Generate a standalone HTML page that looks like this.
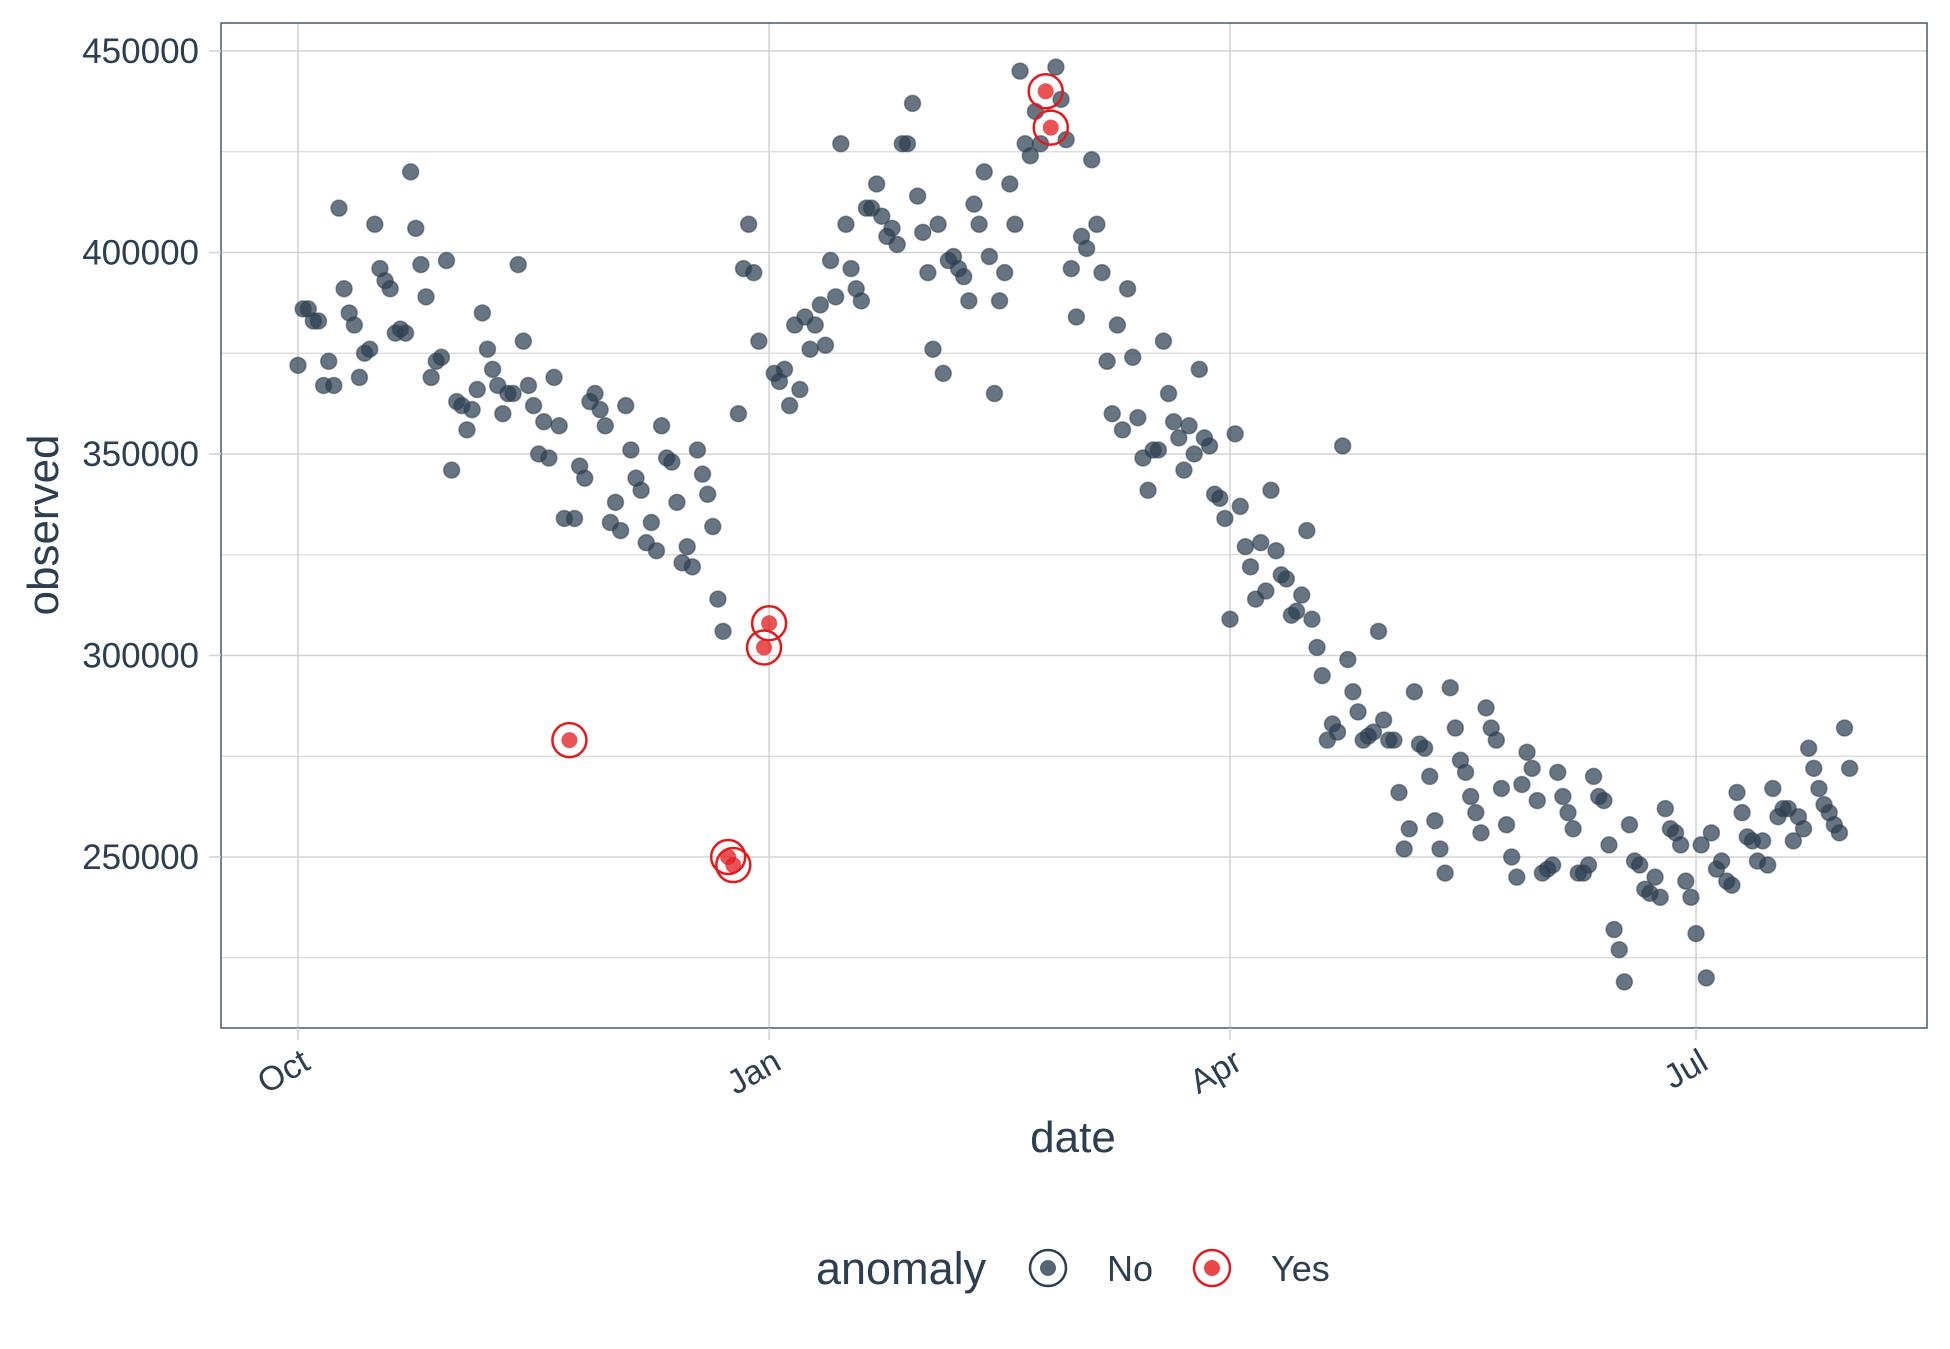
<!DOCTYPE html>
<html><head><meta charset="utf-8"><style>
body{margin:0;background:#fff}
svg{display:block;font-family:"Liberation Sans",sans-serif}
</style></head><body>
<svg id="chart" width="1950" height="1349" viewBox="0 0 1950 1349" xmlns="http://www.w3.org/2000/svg">
<rect x="0" y="0" width="1950" height="1349" fill="#fff"/>
<g id="grid"></g>
<g id="points"></g>
<rect x="221" y="23" width="1706" height="1005" fill="none" stroke="#2c3e50" stroke-width="1.3"/>
<g id="axes"></g>
<text x="1073" y="1152" font-size="44" fill="#2c3e50" text-anchor="middle">date</text>
<text transform="translate(58,525) rotate(-90)" font-size="44" fill="#2c3e50" text-anchor="middle">observed</text>
<g>
<text x="816" y="1284" font-size="45" fill="#2c3e50">anomaly</text>
<circle cx="1048" cy="1268" r="18" fill="none" stroke="#2c3e50" stroke-width="2.5"/>
<circle cx="1048" cy="1268" r="8" fill="#2c3e50" fill-opacity="0.8"/>
<text x="1107" y="1281" font-size="36" fill="#2c3e50">No</text>
<circle cx="1212" cy="1268" r="18" fill="none" stroke="#e31a1c" stroke-width="2.5"/>
<circle cx="1212" cy="1268" r="8" fill="#e31a1c" fill-opacity="0.8"/>
<text x="1271" y="1281" font-size="36" fill="#2c3e50">Yes</text>
</g>
</svg>
<script>
// daily observations starting Oct 1 (day 0), in thousands
const observed = [372,386,386,383,383,367,373,367,411,391,
385,382,369,375,376,407,396,393,391,380,
381,380,420,406,397,389,369,373,374,398,
346,363,362,356,361,366,385,376,371,367,
360,365,365,397,378,367,362,350,358,349,
369,357,334,279,334,347,344,363,365,361,
357,333,338,331,362,351,344,341,328,333,
326,357,349,348,338,323,327,322,351,345,
340,332,314,306,250,248,360,396,407,395,
378,302,308,370,368,371,362,382,366,384,
376,382,387,377,398,389,427,407,396,391,
388,411,411,417,409,404,406,402,427,427,
437,414,405,395,376,407,370,398,399,396,
394,388,412,407,420,399,365,388,395,417,
407,445,427,424,435,427,440,431,446,438,
428,396,384,404,401,423,407,395,373,360,
382,356,391,374,359,349,341,351,351,378,
365,358,354,346,357,350,371,354,352,340,
339,334,309,355,337,327,322,314,328,316,
341,326,320,319,310,311,315,331,309,302,
295,279,283,281,352,299,291,286,279,280,
281,306,284,279,279,266,252,257,291,278,
277,270,259,252,246,292,282,274,271,265,
261,256,287,282,279,267,258,250,245,268,
276,272,264,246,247,248,271,265,261,257,
246,246,248,270,265,264,253,232,227,219,
258,249,248,242,241,245,240,262,257,256,
253,244,240,231,253,220,256,247,249,244,
243,266,261,255,254,249,254,248,267,260,
262,262,254,260,257,277,272,267,263,261,
258,256,282,272];
const anomalyDays = [53,84,85,91,92,146,147];
const yTicks = [250000,300000,350000,400000,450000];
const yMinor = [225000,275000,325000,375000,425000];
const xTickDays = [0,92,182,273];
const xTickLabels = ["Oct","Jan","Apr","Jul"];

const NS="http://www.w3.org/2000/svg";
const xScale = d => 298 + d*5.121;
const yScale = v => 51 + (450000 - v)/50000*201.5;
const L=221,R=1927,T=23,B=1028;
function mk(tag, attrs, parent){const e=document.createElementNS(NS,tag);for(const k in attrs)e.setAttribute(k,attrs[k]);parent.appendChild(e);return e;}
const grid=document.getElementById('grid'), axes=document.getElementById('axes'), pts=document.getElementById('points');
yMinor.forEach(v=>{
  const l=mk('line',{x1:L,x2:R,y1:yScale(v),y2:yScale(v),stroke:'#d9d9d9','stroke-width':1.3},grid);
  
  
});
yTicks.forEach(v=>{
  const y=yScale(v);
  const l=mk('line',{x1:L,x2:R,y1:y,y2:y,stroke:'#d4d4d4','stroke-width':1.6},grid);
  
  
  const t=mk('line',{x1:209,x2:L,y1:y,y2:y,stroke:'#d4d4d4','stroke-width':1.6},axes);
  
  
  const tx=mk('text',{x:199,y:y+12,'font-size':35,fill:'#2c3e50','text-anchor':'end'},axes);
  tx.textContent=String(v);
  
  
});
xTickDays.forEach((d,i)=>{
  const x=xScale(d);
  const l=mk('line',{x1:x,x2:x,y1:T,y2:B,stroke:'#d4d4d4','stroke-width':1.6},grid);
  
  
  const t=mk('line',{x1:x,x2:x,y1:B,y2:1040,stroke:'#d4d4d4','stroke-width':1.6},axes);
  
  
  const tx=mk('text',{transform:`translate(${x+14},${1068}) rotate(-30)`,'font-size':34,fill:'#2c3e50','text-anchor':'end'},axes);
  tx.textContent=xTickLabels[i];
  
  
});
observed.forEach((v,d)=>{
  if(anomalyDays.includes(d)) return;
  const c=mk('circle',{cx:xScale(d),cy:yScale(v*1000),r:8,fill:'#2c3e50','fill-opacity':0.72,stroke:'#2c3e50','stroke-opacity':0.5,'stroke-width':1.5},pts);
  
  
});
anomalyDays.forEach(d=>{
  const x=xScale(d), y=yScale(observed[d]*1000);
  const c=mk('circle',{cx:x,cy:y,r:8,fill:'#e31a1c','fill-opacity':0.75},pts);
  
  
  const r=mk('circle',{cx:x,cy:y,r:17,fill:'none',stroke:'#e31a1c','stroke-width':2.5},pts);
  
  
});
</script>
</body></html>
